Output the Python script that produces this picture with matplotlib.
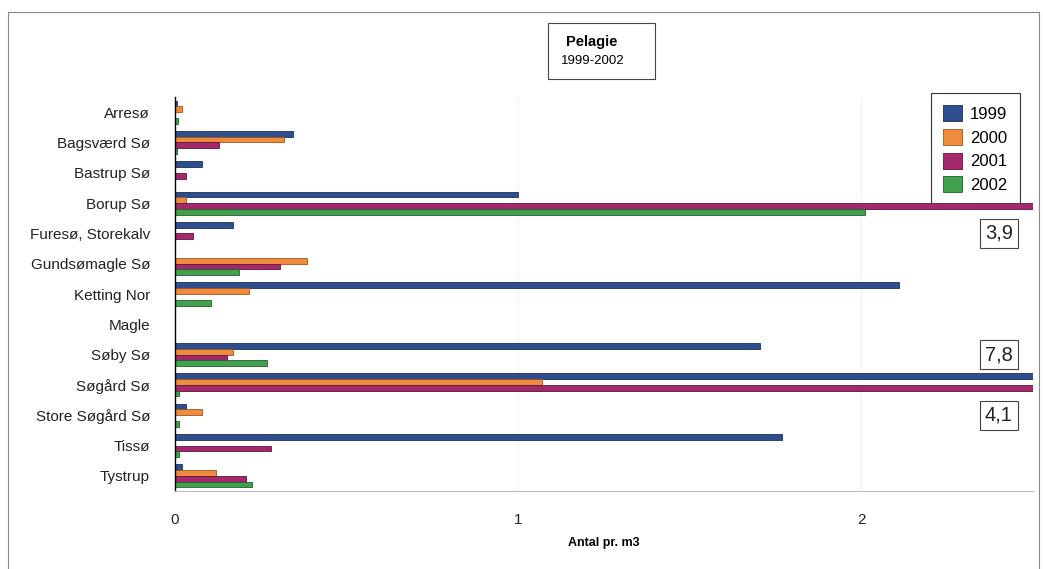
import numpy as np
import matplotlib
matplotlib.use("Agg")
from matplotlib import pyplot as plt
from matplotlib.patches import Rectangle

plt.rcParams['font.family'] = ['Liberation Sans', 'DejaVu Sans']

# Søer, oppefra og ned
soer = ['Arresø', 'Bagsværd Sø', 'Bastrup Sø', 'Borup Sø', 'Furesø, Storekalv',
        'Gundsømagle Sø', 'Ketting Nor', 'Magle', 'Søby Sø', 'Søgård Sø',
        'Store Søgård Sø', 'Tissø', 'Tystrup']

aar = ['1999', '2000', '2001', '2002']

# Antal pr. m3
v1999 = [0.005, 0.345, 0.079, 1.00, 0.170, 0.0, 2.11, 0.0, 1.705, 7.8, 0.032, 1.77, 0.020]
v2000 = [0.020, 0.318, 0.0, 0.032, 0.0, 0.385, 0.215, 0.0, 0.169, 1.07, 0.079, 0.0, 0.120]
v2001 = [0.0, 0.128, 0.032, 3.9, 0.052, 0.306, 0.0, 0.0, 0.151, 4.1, 0.0, 0.280, 0.207]
v2002 = [0.010, 0.005, 0.0, 2.01, 0.0, 0.187, 0.105, 0.0, 0.268, 0.012, 0.012, 0.012, 0.224]

farver = ['#2f4e8e', '#f08a3c', '#a3296b', '#42a04e']
kanter = ['#1c2f5a', '#9a5520', '#5e1540', '#22602a']

xmax = 2.5


def tegn():
    fig = plt.figure(figsize=(10.43, 5.69), dpi=100)
    ax = fig.add_axes([0.1678, 0.1371, 0.8226, 0.6924])
    ax.patch.set_visible(False)

    y = np.arange(len(soer))
    h = 0.19
    serier = [v1999, v2000, v2001, v2002]
    for i, (navn, vals) in enumerate(zip(aar, serier)):
        ax.barh(y + (i - 1.5) * h, vals, height=h, color=farver[i],
                edgecolor=kanter[i], linewidth=0.6, label=navn, zorder=2)

    ax.set_xlim(0, xmax)
    ax.set_ylim(len(soer) - 0.5, -0.5)
    ax.set_yticks(y)
    ax.set_yticklabels(soer, fontsize=11, color='#222222')
    ax.set_xticks([0, 1, 2])
    ax.set_xticklabels(['0', '1', '2'], fontsize=11, color='#222222')
    ax.tick_params(axis='both', length=0)
    ax.tick_params(axis='y', pad=18)
    ax.tick_params(axis='x', pad=16)
    ax.set_xlabel('Antal pr. m3', fontsize=9, fontweight='bold', labelpad=7)

    for s in ['top', 'right']:
        ax.spines[s].set_visible(False)
    ax.spines['left'].set_linewidth(1.0)
    ax.spines['bottom'].set_color('#bbbbbb')
    ax.spines['bottom'].set_linestyle((0, (2, 1)))
    ax.spines['bottom'].set_linewidth(0.8)
    for gx in [1, 2]:
        ax.axvline(gx, color='#f3f3f3', linewidth=0.8, zorder=0)

    # værdier der går ud over aksen
    boks = dict(boxstyle='square,pad=0.25', facecolor='white', edgecolor='#444444', linewidth=0.8)
    for idx, vals, dy in [(3, v2001, 1), (9, v1999, -1), (9, v2001, 1)]:
        tekst = f'{vals[idx]:.1f}'.replace('.', ',')
        ax.text(2.36, idx + dy, tekst, fontsize=14.5, va='center', ha='left',
                bbox=boks, color='#222222', zorder=3)

    # signaturen ligger under søjlerne
    leg = ax.legend(loc='upper right', bbox_to_anchor=(1020 / 1043, 1 - 93 / 569),
                    bbox_transform=fig.transFigure,
                    fontsize=12, frameon=True, fancybox=False, handlelength=1.1,
                    handleheight=1.1, handletextpad=0.5, labelspacing=0.42,
                    borderpad=0.75, borderaxespad=0, framealpha=1)
    leg.get_frame().set_edgecolor('#333333')
    leg.get_frame().set_linewidth(0.8)
    leg.set_zorder(1)

    # titelboks
    fig.patches.append(Rectangle((548 / 1043, 1 - 79 / 569), 107 / 1043, 56 / 569,
                                 transform=fig.transFigure, facecolor='white',
                                 edgecolor='#444444', linewidth=0.8))
    fig.text(566 / 1043, 1 - 42 / 569, 'Pelagie', fontsize=10.5, fontweight='bold',
             va='center', ha='left')
    fig.text(561 / 1043, 1 - 61 / 569, '1999-2002', fontsize=9.5, va='center', ha='left')

    # ramme om hele figuren
    fig.patches.append(Rectangle((8 / 1043, -0.1), 1031 / 1043, 1.1 - 12 / 569,
                                 transform=fig.transFigure, facecolor='none',
                                 edgecolor='#888888', linewidth=0.8))

    fig.savefig('out.png', dpi=100)


if __name__ == "__main__":
    tegn()
